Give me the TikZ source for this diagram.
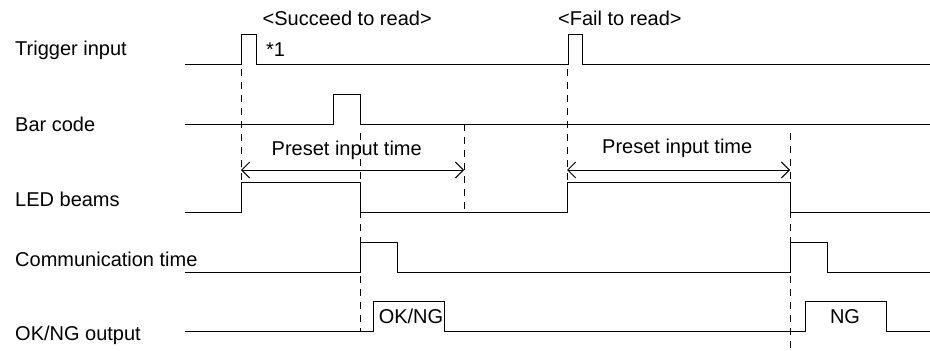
\documentclass[tikz,border=0pt]{standalone}
\usepackage{fontspec}
\setmainfont{Liberation Sans}
\usetikzlibrary{arrows.meta}

\begin{document}
\begin{tikzpicture}[x=1pt, y=-1pt,
    lbl/.style={anchor=base west, inner sep=0pt, font=\fontsize{20}{24}\selectfont},
    mid/.style={anchor=base, inner sep=0pt, font=\fontsize{20}{24}\selectfont},
    sig/.style={line width=1pt},
    guide/.style={line width=1pt, dash pattern=on 7pt off 6pt},
    span/.style={line width=1pt, {Straight Barb[length=8pt,width=16pt]}-{Straight Barb[length=8pt,width=16pt]}}]
  \useasboundingbox (0,0) rectangle (930,351);

  \node [lbl] (Trg) at (15,55) {Trigger input};
  \node [lbl] (Bar) at (15,131.5) {Bar code};
  \node [lbl] (LED) at (15,206.5) {LED beams};
  \node [lbl] (Com) at (15,266.5) {Communication time};
  \node [lbl] (Out) at (15,340) {OK/NG output};

  \node [lbl] (Ok) at (262.5,25) {<Succeed to read>};
  \node [lbl] (Ng) at (558,25) {<Fail to read>};
  \node [lbl] (Note) at (266,56.5) {*1};

  \draw [sig] (185,64) -- (241,64) -- (241,34) -- (256,34) -- (256,64) -- (568,64) -- (568,34) -- (582,34) -- (582,64) -- (930,64);
  \draw [sig] (185,124) -- (333,124) -- (333,94) -- (360,94) -- (360,124) -- (930,124);
  \draw [sig] (185,212) -- (241,212) -- (241,182) -- (360,182) -- (360,212) -- (567,212) -- (567,182) -- (790,182) -- (790,212) -- (930,212);
  \draw [sig] (185,272) -- (360,272) -- (360,242) -- (397,242) -- (397,272) -- (790,272) -- (790,242) -- (827,242) -- (827,272) -- (930,272);
  \draw [sig] (185,331) -- (373,331) -- (373,301) -- (444,301) -- (444,331) -- (805,331) -- (805,301) -- (886,301) -- (886,331) -- (930,331);

  \draw [guide] (241,69) -- (241,182);
  \draw [guide] (360,133) -- (360,331);
  \draw [guide] (464,124) -- (464,212);
  \draw [guide] (567,69) -- (567,182);
  \draw [guide] (790,133) -- (790,351);

  \coordinate (S1) at (241,170);
  \coordinate (E1) at (464,170);
  \coordinate (S2) at (567,170);
  \coordinate (E2) at (790,170);
  \draw [span] (S1) -- (E1);
  \draw [span] (S2) -- (E2);
  \node [lbl] (Pre1) at (271.5,155) {Preset input time};
  \node [lbl] (Pre2) at (602,153) {Preset input time};

  \node [mid] (Res1) at (411,323) {OK/NG};
  \node [mid] (Res2) at (845,323) {NG};
\end{tikzpicture}
\end{document}
